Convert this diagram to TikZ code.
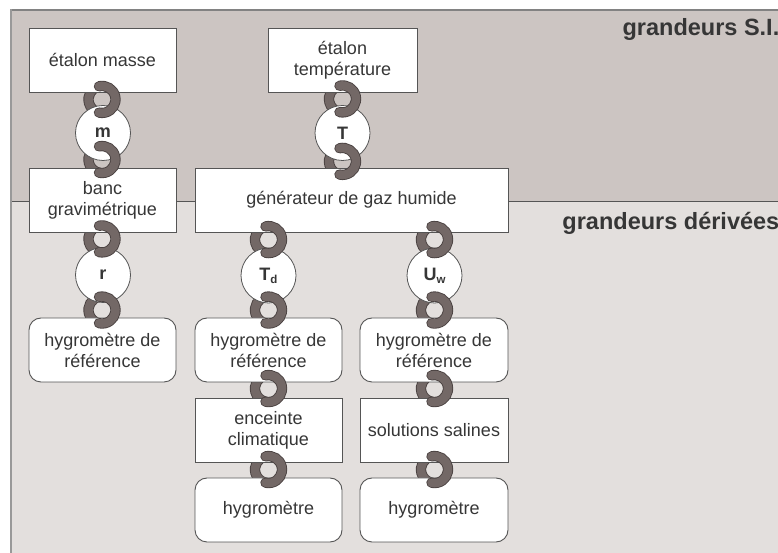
\documentclass[tikz,border=0pt]{standalone}
\usepackage{fontspec}
\setmainfont{Liberation Sans}
\usetikzlibrary{calc}
\pgfdeclarelayer{bg}
\pgfdeclarelayer{back}
\pgfsetlayers{bg,back,main}
\definecolor{topbg}{HTML}{CCC5C2}
\definecolor{botbg}{HTML}{E3DFDD}
\definecolor{linkfill}{HTML}{736866}
\definecolor{linkedge}{HTML}{4A4241}
\definecolor{edgegray}{HTML}{555555}
\definecolor{framegray}{HTML}{999999}
\definecolor{txt}{HTML}{363636}
\tikzset{
  box/.style={draw=edgegray, line width=0.9pt, fill=white, minimum width=147pt,
    minimum height=64pt, inner sep=0pt, align=center, text=txt,
    font=\fontsize{18}{21}\selectfont},
  rbox/.style={box, rounded corners=12pt},
  qty/.style={circle, draw=edgegray, line width=0.8pt, fill=white, minimum size=55pt,
    inner sep=0pt, text=txt, font=\fontsize{18}{18}\selectfont\bfseries},
  ring/.style={draw=linkedge, line width=0.9pt, double=linkfill, double distance=8.5pt,
    line cap=round},
  zone/.style={font=\fontsize{23.5}{24}\selectfont\bfseries, text=txt, inner sep=0pt},
}
\newcommand\ringback[1]{\draw[ring] ($(#1)+(105:13.5pt and 13.5pt)$)
  arc[start angle=105, end angle=255, x radius=13.5pt, y radius=13.5pt];}
\newcommand\ringfront[1]{\draw[ring] ($(#1)+(103:13.5pt and 13.5pt)$)
  arc[start angle=103, end angle=-103, x radius=13.5pt, y radius=13.5pt];}
\begin{document}
\begin{tikzpicture}[x=1pt,y=1pt]
\useasboundingbox (0,0) rectangle (778,553);
% zones
\begin{pgfonlayer}{bg}
  \fill[topbg] (11,351.5) rectangle (779,543);
  \fill[botbg] (11,0) rectangle (779,351.5);
  \draw[edgegray, line width=0.9pt] (11,351.5) -- (779,351.5);
  \draw[framegray!85!black, line width=1.2pt] (10,543) -- (779,543);
  \draw[framegray, line width=2pt] (11,-1) -- (11,543.6);
\end{pgfonlayer}
\node[zone, anchor=base east] (zsi) at (779.5,517.3) {grandeurs S.I.};
\node[zone, anchor=base east] (zder) at (779.5,323.7) {grandeurs dérivées};
% nodes
\node[box] (em) at (102.5,493) {étalon masse};
\node[box, minimum width=149pt] (et) at (342.5,493) {étalon\\température};
\node[qty] (m) at (103,420) {m};
\node[qty] (T) at (342.5,420) {T};
\node[box] (banc) at (102.5,353) {banc\\gravimétrique};
\node[box, minimum width=313pt] (gen) at (351.5,353) {générateur de gaz humide};
\node[qty] (r) at (103,278) {r};
\node[qty] (Td) at (268.5,277.5) {T\raisebox{-0.3ex}{\fontsize{11.5}{11.5}\selectfont d}};
\node[qty] (Uw) at (434.5,277.5) {U\raisebox{-0.3ex}{\fontsize{11.5}{11.5}\selectfont w}};
\node[rbox] (hA) at (102.5,203) {hygromètre de\\référence};
\node[rbox] (hB) at (268.5,203) {hygromètre de\\référence};
\node[rbox, minimum width=148pt] (hC) at (434,203) {hygromètre de\\référence};
\node[box] (enc) at (268.5,123) {enceinte\\climatique};
\node[box, minimum width=148pt] (sol) at (434,123) {solutions salines};
\node[rbox] (yB) at (268.5,43) {hygromètre};
\node[rbox, minimum width=148pt] (yC) at (434,43) {hygromètre};
% link centres
\coordinate (kA1) at ($(em.south)+(-0.5,-7)$);
\coordinate (kA2) at ($(banc.north)+(-0.5,8)$);
\coordinate (kA3) at ($(banc.south)+(-0.5,-6.5)$);
\coordinate (kA4) at ($(hA.north)+(-0.5,7.5)$);
\coordinate (kT1) at ($(et.south)+(0,-6.5)$);
\coordinate (kT2) at ($(T.south)+(0,-0.5)$);
\coordinate (kB1) at ($(Td.north)+(0,8)$);
\coordinate (kB2) at ($(hB.north)+(0,7.5)$);
\coordinate (kB3) at ($(enc.north)+(0,9)$);
\coordinate (kB4) at ($(yB.north)+(0,8)$);
\coordinate (kC1) at ($(Uw.north)+(0,8)$);
\coordinate (kC2) at ($(hC.north)+(0.5,7.5)$);
\coordinate (kC3) at ($(sol.north)+(0.5,9)$);
\coordinate (kC4) at ($(yC.north)+(0.5,8)$);
\begin{pgfonlayer}{back}
  \foreach \k in {kA1,kA2,kA3,kA4,kT1,kT2,kB1,kB2,kB3,kB4,kC1,kC2,kC3,kC4}{\ringback{\k}}
\end{pgfonlayer}
\foreach \k in {kA1,kA2,kA3,kA4,kT1,kT2,kB1,kB2,kB3,kB4,kC1,kC2,kC3,kC4}{\ringfront{\k}}
\end{tikzpicture}
\end{document}
